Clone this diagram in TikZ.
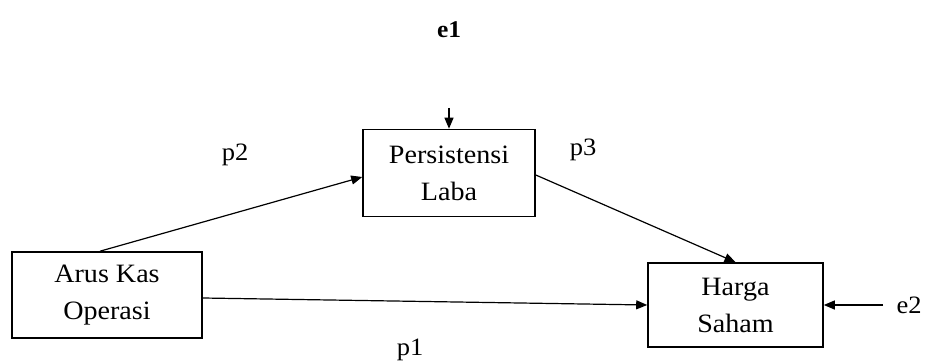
\documentclass[tikz,border=0pt]{standalone}
\usepackage{fontspec}
\setmainfont[FakeStretch=1.06]{Liberation Serif}
\usetikzlibrary{arrows.meta}
\begin{document}
\begin{tikzpicture}[x=1pt,y=-1pt,
  varbox/.style={draw,line width=1.6pt,minimum width=#1,inner sep=0pt,align=center,font=\fontsize{26.5}{37}\selectfont},
  lbl/.style={font=\fontsize{25}{28}\selectfont,inner sep=0pt},
  arr/.style={line width=1.2pt,-{Triangle[length=11pt,width=9pt]}}]
\useasboundingbox (0,0) rectangle (925,363);
\node[varbox=190pt,minimum height=86pt] (ako) at (107,295) {Arus Kas\\Operasi};
\node[varbox=172pt,minimum height=87pt] (pl) at (449,173) {Persistensi\\Laba};
\node[varbox=175pt,minimum height=84pt] (hs) at (735.5,305) {Harga\\Saham};
\node[lbl,font=\fontsize{24}{28}\selectfont\bfseries] (e1) at (449,30) {e1};
\node[lbl] (e2) at (909,305) {e2};
\node[lbl] (p2) at (235,155) {p2};
\node[lbl] (p3) at (583,150) {p3};
\node[lbl] (p1) at (410,350) {p1};
\coordinate (e1s) at (449,108);
\coordinate (e2s) at (883,305);
\draw[arr] (e1s) -- (pl.north);
\draw[arr] (e2s) -- (hs.east);
\draw[arr] (ako.north) ++(-7,0) coordinate (akn) (akn) -- (pl.west |- 0,177);
\draw[arr] (pl.east |- 0,175) -- (hs.north);
\draw[arr] (ako.east |- 0,298) -- (hs.west);
\end{tikzpicture}
\end{document}
